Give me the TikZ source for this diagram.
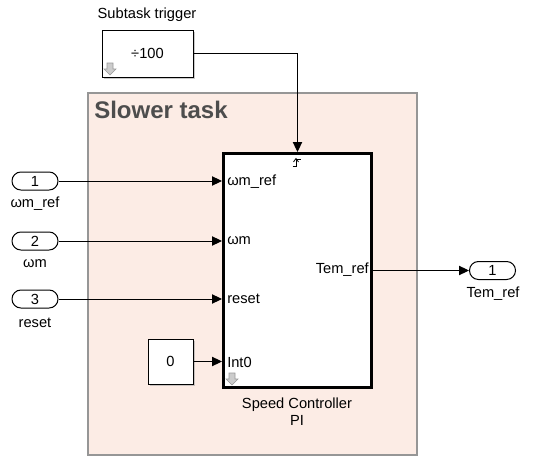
\documentclass[tikz,border=0pt]{standalone}
\usepackage{fontspec}
\setmainfont{Liberation Sans}
\usetikzlibrary{arrows.meta,shadows}
\definecolor{taskfill}{RGB}{252,236,229}
\definecolor{taskedge}{RGB}{150,150,150}
\definecolor{titlecol}{RGB}{77,77,77}
\begin{document}
\begin{tikzpicture}[x=0.75pt,y=-0.75pt,
  font=\fontsize{11}{13}\selectfont,
  sig/.style={line width=0.75pt,-{Triangle[length=7.5pt,width=7pt]}},
  blk/.style={draw,line width=0.75pt,fill=white,inner sep=0pt,
    drop shadow={shadow xshift=1.2pt,shadow yshift=-1.2pt,fill=black!35,opacity=0.6}},
  port/.style={draw,line width=0.75pt,fill=white,rounded corners=6.7pt,
    minimum width=34.5pt,minimum height=13.5pt,inner sep=0pt},
  lbl/.style={inner sep=0pt},
  icon/.style={fill=black!20,draw=black!40,line width=0.4pt}]
\useasboundingbox (0,0) rectangle (533,464);
% slower task area
\node[draw=taskedge,fill=taskfill,line width=0.9pt,minimum width=246.75pt,minimum height=271.5pt,inner sep=0pt] (area) at (252.5,274) {};
\node[lbl,anchor=west,text=titlecol,font=\fontsize{18}{20}\bfseries] (title) at (94,110) {Slower task};
% subtask trigger
\node[lbl] (trigname) at (147,15) {Subtask trigger};
\node[blk,minimum width=68.25pt,minimum height=35.25pt] (div) at (147.5,53.5) {÷100};
\draw[icon] (107,63) -- (113,63) -- (113,69) -- (116,69) -- (110,75) -- (104,69) -- (107,69) -- cycle;
% main block
\node[draw,line width=2.25pt,fill=white,minimum width=111pt,minimum height=175.5pt,inner sep=0pt] (spc) at (297.5,270.5) {};
\draw[line width=0.6pt] (292.5,166) -- (296,166) -- (296,159) -- (301,159);
\draw[line width=0.6pt] (293.5,162) -- (296,158.5) -- (298.5,162);
\draw[icon] (229,373) -- (235,373) -- (235,379) -- (238,379) -- (232,385) -- (226,379) -- (229,379) -- cycle;
\node[lbl,anchor=west] (p1) at (227,182) {ωm\_ref};
\node[lbl,anchor=west] (p2) at (227,241) {ωm};
\node[lbl,anchor=west] (p3) at (227,299) {reset};
\node[lbl,anchor=west] (p4) at (227,362) {Int0};
\node[lbl,anchor=east] (po) at (369,270) {Tem\_ref};
\node[lbl,align=center] (spcname) at (297,412) {Speed Controller\\PI};
% inports
\node[port] (in1) at (35,181) {1};
\node[lbl] (in1n) at (35,204) {ωm\_ref};
\node[port] (in2) at (35,241) {2};
\node[lbl] (in2n) at (35,264) {ωm};
\node[port] (in3) at (35,299) {3};
\node[lbl] (in3n) at (35,323) {reset};
% constant
\node[blk,minimum width=33.75pt,minimum height=33.75pt] (c0) at (170.5,361.5) {0};
% outport
\node[port] (out1) at (492.5,270.5) {1};
\node[lbl] (out1n) at (493,294) {Tem\_ref};
% connectors
\draw[sig] (div.east) -| (spc.north);
\draw[sig] (in1.east) -- (in1.east -| spc.west);
\draw[sig] (in2.east) -- (in2.east -| spc.west);
\draw[sig] (in3.east) -- (in3.east -| spc.west);
\draw[sig] (c0.east) -- (c0.east -| spc.west);
\draw[sig] (spc.east |- out1.west) -- (out1.west);
\end{tikzpicture}
\end{document}
